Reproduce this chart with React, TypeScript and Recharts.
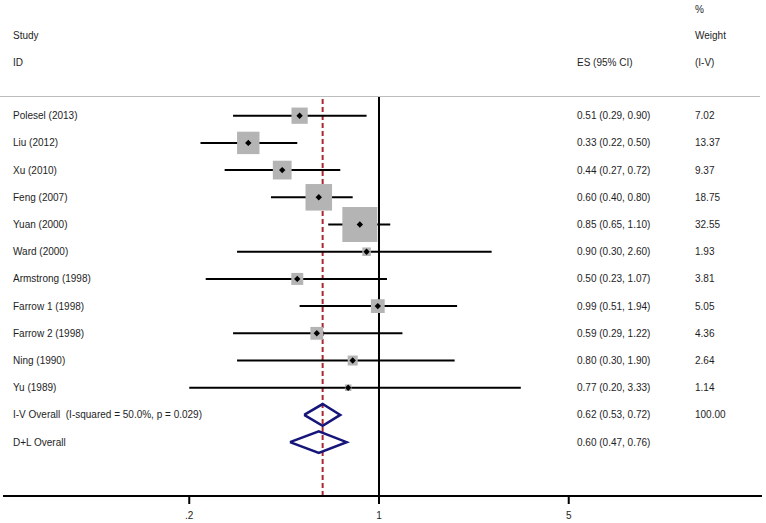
import { ScatterChart, Scatter, XAxis, YAxis, ErrorBar, ReferenceLine } from 'recharts';

const studies = [
  'Polesel (2013)',
  'Liu (2012)',
  'Xu (2010)',
  'Feng (2007)',
  'Yuan (2000)',
  'Ward (2000)',
  'Armstrong (1998)',
  'Farrow 1 (1998)',
  'Farrow 2 (1998)',
  'Ning (1990)',
  'Yu (1989)',
];
const es = [0.51, 0.33, 0.44, 0.6, 0.85, 0.9, 0.5, 0.99, 0.59, 0.8, 0.77];
const lower = [0.29, 0.22, 0.27, 0.4, 0.65, 0.3, 0.23, 0.51, 0.29, 0.3, 0.2];
const upper = [0.9, 0.5, 0.72, 0.8, 1.1, 2.6, 1.07, 1.94, 1.22, 1.9, 3.33];
const weights = ['7.02', '13.37', '9.37', '18.75', '32.55', '1.93', '3.81', '5.05', '4.36', '2.64', '1.14'];

const overallLabels = ['I-V Overall\u00a0 (I-squared = 50.0%, p = 0.029)', 'D+L Overall'];
const overallEs = [0.62, 0.6];
const overallLower = [0.53, 0.47];
const overallUpper = [0.72, 0.76];
const overallWeights = ['100.00', ''];

const xTicks = [0.2, 1, 5];
const xTickLabels = ['.2', '1', '5'];

const FONT = '"Liberation Sans", Arial, sans-serif';
const TEXT = '#1e1e1e';
const NAVY = '#15157a';

const fmt = (v: number) => v.toFixed(2);

const studyRows = studies.map((name, i) => ({
  x: es[i],
  y: i,
  w: parseFloat(weights[i]),
  err: [es[i] - lower[i], upper[i] - es[i]],
}));

const rowLabels = [...studies, ...overallLabels];
const rowEs = [
  ...es.map((v, i) => `${fmt(v)} (${fmt(lower[i])}, ${fmt(upper[i])})`),
  ...overallEs.map((v, i) => `${fmt(v)} (${fmt(overallLower[i])}, ${fmt(overallUpper[i])})`),
];
const rowWeights = [...weights, ...overallWeights];
const rowIndex = rowLabels.map((_, i) => i);

function diamond(k: number) {
  const row = studies.length + k;
  return [
    { x: overallLower[k], y: row },
    { x: overallEs[k], y: row - 0.4 },
    { x: overallUpper[k], y: row },
    { x: overallEs[k], y: row + 0.4 },
    { x: overallLower[k], y: row },
  ];
}

const WeightBox = (props: any) => {
  const { cx, cy, payload } = props;
  const side = 6.13 * Math.sqrt(payload.w);
  return <rect x={cx - side / 2} y={cy - side / 2} width={side} height={side} fill="#b4b4b4" />;
};

const Dot = (props: any) => {
  const { cx, cy } = props;
  const r = 3.2;
  return <path d={`M${cx - r},${cy}L${cx},${cy - r}L${cx + r},${cy}L${cx},${cy + r}Z`} fill="#000" />;
};

const RowTick = (props: any) => {
  const { y, payload } = props;
  const i = payload?.value;
  const style = { fontFamily: FONT, fontSize: 10, fill: TEXT };
  return (
    <g>
      <text x={13} y={y} dominantBaseline="central" style={style}>
        {rowLabels[i]}
      </text>
      <text x={577} y={y} dominantBaseline="central" style={style}>
        {rowEs[i]}
      </text>
      <text x={695} y={y} dominantBaseline="central" style={style}>
        {rowWeights[i]}
      </text>
    </g>
  );
};

const header = (text: string, left: number, center: number) => (
  <div
    key={text + left}
    style={{
      position: 'absolute',
      left,
      top: center - 6,
      lineHeight: '12px',
      fontSize: 10,
      fontFamily: FONT,
      color: TEXT,
      whiteSpace: 'nowrap',
    }}
  >
    {text}
  </div>
);

export default function App() {
  return (
    <div style={{ position: 'absolute', left: 0, top: 0, width: 766, height: 523, background: '#fff' }}>
      <ScatterChart width={766} height={523} margin={{ top: 96, right: 4, bottom: 0, left: 2 }}>
        <XAxis
          type="number"
          dataKey="x"
          scale="log"
          domain={[0.0412, 25.76]}
          allowDataOverflow
          ticks={xTicks}
          tickFormatter={(v: number) => xTickLabels[xTicks.indexOf(v)] ?? String(v)}
          height={27}
          tickSize={8}
          tickMargin={8}
          axisLine={{ stroke: '#000', strokeWidth: 2 }}
          tickLine={{ stroke: '#000', strokeWidth: 2 }}
          tick={{ fontFamily: FONT, fontSize: 10, fill: TEXT }}
        />
        <YAxis
          type="number"
          dataKey="y"
          reversed
          domain={[-0.724, 13.98]}
          allowDataOverflow
          ticks={rowIndex}
          interval={0}
          width={1}
          axisLine={false}
          tickLine={false}
          tick={(p: any) => <RowTick {...p} />}
        />
        <ReferenceLine x={overallEs[0]} stroke="#a8282e" strokeWidth={2} strokeDasharray="5 3" />
        <ReferenceLine x={1} stroke="#000" strokeWidth={2} />
        <Scatter data={studyRows} shape={<WeightBox />} isAnimationActive={false} />
        <Scatter data={studyRows} shape={<Dot />} isAnimationActive={false}>
          <ErrorBar dataKey="err" direction="x" width={0} stroke="#000" strokeWidth={2} />
        </Scatter>
        <Scatter
          data={diamond(0)}
          line={{ stroke: NAVY, strokeWidth: 2.5 }}
          lineType="joint"
          shape={() => <g />}
          isAnimationActive={false}
        />
        <Scatter
          data={diamond(1)}
          line={{ stroke: NAVY, strokeWidth: 2.5 }}
          lineType="joint"
          shape={() => <g />}
          isAnimationActive={false}
        />
      </ScatterChart>
      <div style={{ position: 'absolute', left: 0, top: 96, width: 760, height: 1, background: '#bdbdbd' }} />
      {header('%', 695, 9.5)}
      {header('Study', 13, 35.5)}
      {header('Weight', 695, 35.5)}
      {header('ID', 13, 62.5)}
      {header('ES (95% CI)', 577, 62.5)}
      {header('(I-V)', 695, 62.5)}
    </div>
  );
}
